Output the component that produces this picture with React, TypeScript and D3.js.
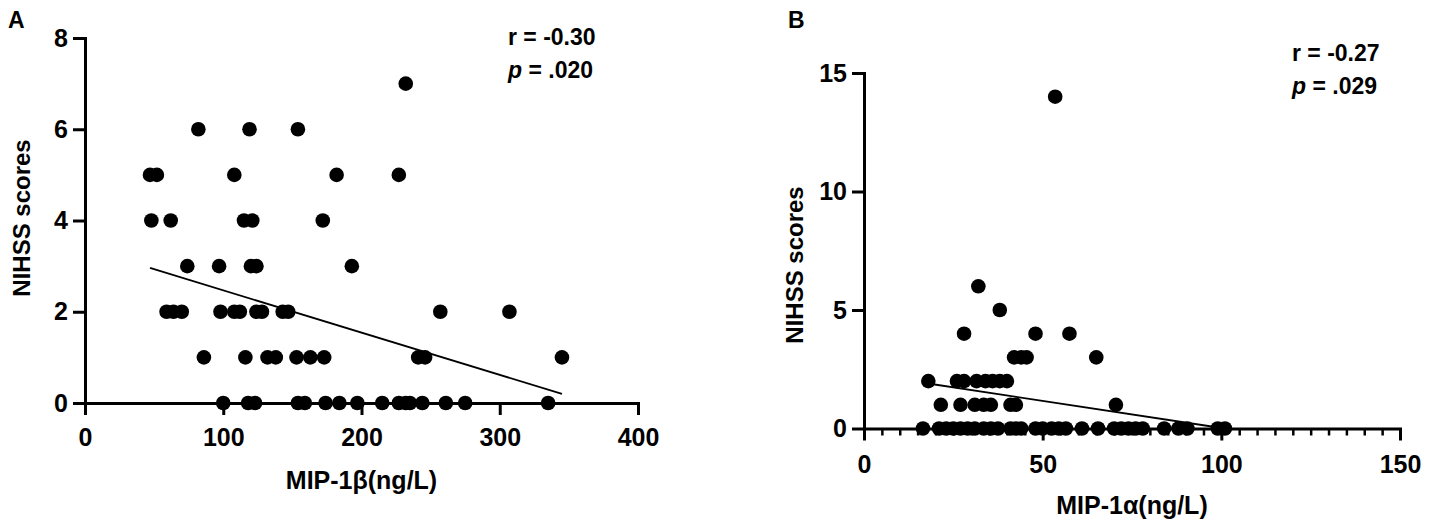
import { useEffect, useRef } from 'react';
import * as d3 from 'd3';

// Panel A: MIP-1β vs NIHSS
const mip1bValues = [
  232,
  82, 119, 154,
  47, 52, 108, 182, 227,
  48, 62, 115, 121, 172,
  74, 97, 120, 124, 193,
  59, 64, 70, 98, 108, 112, 124, 128, 143, 147, 257, 307,
  86, 116, 132, 138, 153, 163, 173, 241, 246, 345,
  100, 118, 123, 154, 159, 174, 184, 197, 215, 227, 232, 235, 244, 261, 275, 335,
];
const nihssA = [
  7,
  6, 6, 6,
  5, 5, 5, 5, 5,
  4, 4, 4, 4, 4,
  3, 3, 3, 3, 3,
  2, 2, 2, 2, 2, 2, 2, 2, 2, 2, 2, 2,
  1, 1, 1, 1, 1, 1, 1, 1, 1, 1,
  0, 0, 0, 0, 0, 0, 0, 0, 0, 0, 0, 0, 0, 0, 0, 0,
];
const fitAX = [47, 345];
const fitAY = [2.96, 0.2];

// Panel B: MIP-1α vs NIHSS
const mip1aValues = [
  53.5,
  32,
  38,
  28, 48, 57.5,
  42, 44, 45.5, 65,
  18, 26, 28, 31.5, 34, 36, 38, 40,
  21.5, 27, 31, 33.5, 35.5, 41, 42.5, 70.5,
  16.5, 21, 23, 25, 27, 29, 31, 33.5, 35.5, 37.5, 41, 42.5, 44, 48, 50, 52.5, 54.5, 56.5,
  61, 65.5, 70, 72, 74, 76, 78, 84, 88, 90.5, 99, 101,
];
const nihssB = [
  14,
  6,
  5,
  4, 4, 4,
  3, 3, 3, 3,
  2, 2, 2, 2, 2, 2, 2, 2,
  1, 1, 1, 1, 1, 1, 1, 1,
  0, 0, 0, 0, 0, 0, 0, 0, 0, 0, 0, 0, 0, 0, 0, 0, 0, 0,
  0, 0, 0, 0, 0, 0, 0, 0, 0, 0, 0, 0,
];
const fitBX = [17, 101];
const fitBY = [1.92, 0.0];

const xTicksA = [0, 100, 200, 300, 400];
const yTicksA = [0, 2, 4, 6, 8];
const xTicksB = [0, 50, 100, 150];
const yTicksB = [0, 5, 10, 15];

const FONT = "'Liberation Sans', Arial, Helvetica, sans-serif";

interface PanelSpec {
  letter: string;
  letterX: number;
  xs: number[];
  ys: number[];
  fitX: number[];
  fitY: number[];
  xDomain: [number, number];
  yDomain: [number, number];
  xTicks: number[];
  yTicks: number[];
  minorStep?: number;
  left: number;
  right: number;
  top: number;
  bottom: number;
  xPad: number;
  xTitle: string;
  xTitleY: number;
  yTitleX: number;
  yTitleY: number;
  r: string;
  p: string;
  statX: number;
  statY: number;
}

const styleAxis = (sel: d3.Selection<SVGGElement, unknown, null, undefined>) => {
  sel.select('.domain')
    .attr('stroke', '#000')
    .attr('stroke-width', 3)
    .attr('stroke-linecap', 'square');
  sel.selectAll('.tick line')
    .attr('stroke', '#000')
    .attr('stroke-width', 3);
  sel.selectAll('.tick text')
    .attr('fill', '#000')
    .attr('font-family', FONT)
    .attr('font-weight', 'bold')
    .attr('font-size', 25);
};

const drawPanel = (svg: d3.Selection<SVGSVGElement, unknown, null, undefined>, p: PanelSpec) => {
  const g = svg.append('g');
  const x = d3.scaleLinear().domain(p.xDomain).range([p.left, p.right]);
  const y = d3.scaleLinear().domain(p.yDomain).range([p.bottom, p.top]);

  // minor ticks (panel B)
  if (p.minorStep) {
    const minor = g.append('g')
      .attr('transform', `translate(0,${p.bottom})`)
      .call(d3.axisBottom(x)
        .tickValues(d3.range(p.xDomain[0], p.xDomain[1] + 0.001, p.minorStep))
        .tickSize(7)
        .tickFormat(() => ''));
    minor.select('.domain').remove();
    minor.selectAll('line').attr('stroke', '#000').attr('stroke-width', 2.5);
  }

  const xAxis = g.append('g')
    .attr('transform', `translate(0,${p.bottom})`)
    .call(d3.axisBottom(x).tickValues(p.xTicks).tickSize(12).tickSizeOuter(0).tickPadding(p.xPad));
  styleAxis(xAxis);

  const yAxis = g.append('g')
    .attr('transform', `translate(${p.left},0)`)
    .call(d3.axisLeft(y).tickValues(p.yTicks).tickSize(12).tickSizeOuter(0).tickPadding(5));
  styleAxis(yAxis);

  // regression line
  const line = d3.line<number>()
    .x((_, i) => x(p.fitX[i]))
    .y(d => y(d));
  g.append('path')
    .datum(p.fitY)
    .attr('d', line)
    .attr('fill', 'none')
    .attr('stroke', '#000')
    .attr('stroke-width', 1.8);

  // points
  g.selectAll('.dot')
    .data(p.xs)
    .enter()
    .append('circle')
    .attr('class', 'dot')
    .attr('cx', d => x(d))
    .attr('cy', (_, i) => y(p.ys[i]))
    .attr('r', 7.3)
    .attr('fill', '#000');

  // axis titles
  g.append('text')
    .attr('x', (p.left + p.right) / 2)
    .attr('y', p.xTitleY)
    .attr('text-anchor', 'middle')
    .attr('font-family', FONT)
    .attr('font-weight', 'bold')
    .attr('font-size', 25)
    .text(p.xTitle);
  g.append('text')
    .attr('transform', `translate(${p.yTitleX},${p.yTitleY}) rotate(-90)`)
    .attr('text-anchor', 'middle')
    .attr('font-family', FONT)
    .attr('font-weight', 'bold')
    .attr('font-size', 24)
    .text('NIHSS scores');

  // stats
  const stat = g.append('text')
    .attr('font-family', FONT)
    .attr('font-weight', 'bold')
    .attr('font-size', 23);
  stat.append('tspan').attr('x', p.statX).attr('y', p.statY).text(`r = ${p.r}`);
  const pLine = stat.append('tspan').attr('x', p.statX).attr('y', p.statY + 33);
  pLine.append('tspan').attr('font-style', 'italic').text('p');
  pLine.append('tspan').text(` = ${p.p}`);

  // panel letter
  g.append('text')
    .attr('x', p.letterX)
    .attr('y', 28)
    .attr('font-family', FONT)
    .attr('font-weight', 'bold')
    .attr('font-size', 23)
    .text(p.letter);
};

const App = () => {
  const chartRef = useRef<SVGSVGElement>(null);

  useEffect(() => {
    if (!chartRef.current) return;
    const svg = d3.select(chartRef.current);
    svg.selectAll('*').remove();

    drawPanel(svg, {
      letter: 'A',
      letterX: 8,
      xs: mip1bValues,
      ys: nihssA,
      fitX: fitAX,
      fitY: fitAY,
      xDomain: [0, 400],
      yDomain: [0, 8],
      xTicks: xTicksA,
      yTicks: yTicksA,
      left: 85,
      right: 638,
      top: 38,
      bottom: 403,
      xPad: 13,
      xTitle: 'MIP-1β(ng/L)',
      xTitleY: 489,
      yTitleX: 30,
      yTitleY: 218,
      r: '-0.30',
      p: '.020',
      statX: 508,
      statY: 45,
    });

    drawPanel(svg, {
      letter: 'B',
      letterX: 788,
      xs: mip1aValues,
      ys: nihssB,
      fitX: fitBX,
      fitY: fitBY,
      xDomain: [0, 150],
      yDomain: [0, 15],
      xTicks: xTicksB,
      yTicks: yTicksB,
      minorStep: 5,
      left: 864,
      right: 1400,
      top: 73,
      bottom: 428.5,
      xPad: 15,
      xTitle: 'MIP-1α(ng/L)',
      xTitleY: 514,
      yTitleX: 803,
      yTitleY: 265,
      r: '-0.27',
      p: '.029',
      statX: 1292,
      statY: 61,
    });
  }, []);

  return (
    <div style={{ position: 'absolute', left: 0, top: 0 }}>
      <svg ref={chartRef} width={1429} height={526} style={{ display: 'block', background: '#fff' }} />
    </div>
  );
};

export default App;
